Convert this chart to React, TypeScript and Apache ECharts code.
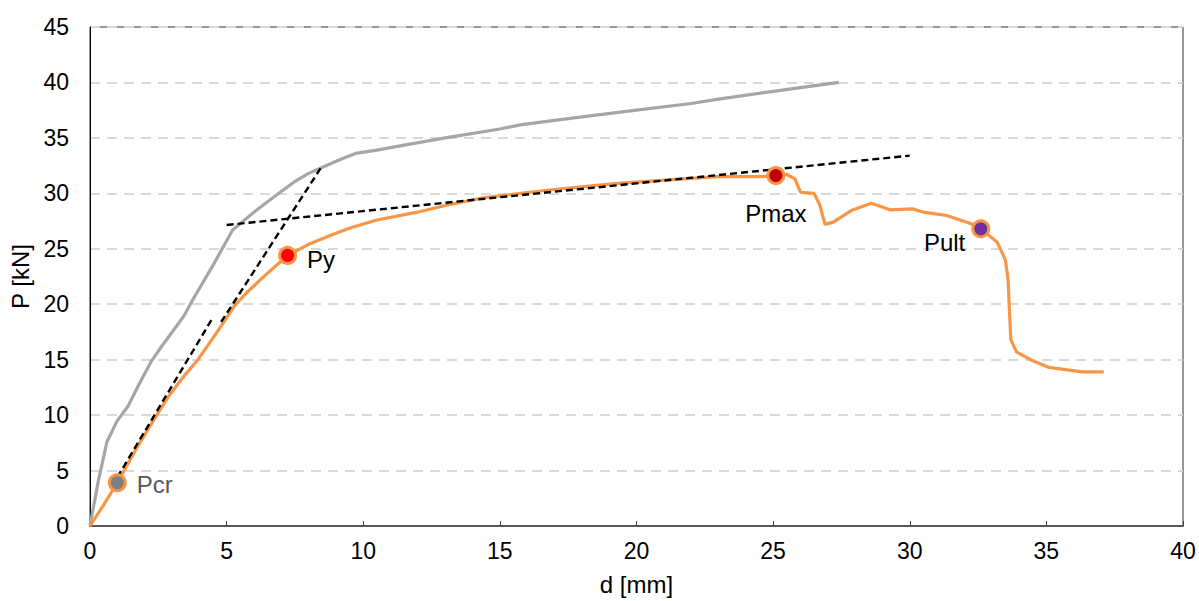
import React, { useEffect, useRef } from "react";
import * as echarts from "echarts";

const xTicks = [0, 5, 10, 15, 20, 25, 30, 35, 40];
const yTicks = [0, 5, 10, 15, 20, 25, 30, 35, 40, 45];

const grayCurve: [number, number][] = [
  [0, 0], [0.3, 4], [0.62, 7.6], [1.0, 9.5], [1.39, 10.8], [1.8, 12.8], [2.23, 14.8],
  [2.65, 16.3], [3.07, 17.7], [3.45, 19.0], [3.76, 20.4], [4.5, 23.5], [5.22, 26.7],
  [6.1, 28.5], [6.8, 29.8], [7.46, 31.0], [8.0, 31.8], [8.55, 32.4], [9.2, 33.1],
  [9.72, 33.6], [10.5, 33.9], [11.4, 34.3], [13, 35.0], [15, 35.8], [15.8, 36.2],
  [18, 36.9], [20, 37.5], [22, 38.1], [23, 38.5], [25, 39.2], [27.4, 40.0],
];

const orangeCurve: [number, number][] = [
  [0, 0], [0.5, 1.9], [1.0, 3.9], [1.7, 7.0], [2.34, 9.6], [2.85, 11.6], [3.4, 13.4],
  [3.95, 15.0], [4.6, 17.3], [5.3, 19.9], [5.8, 21.2], [6.5, 22.8], [7.23, 24.4],
  [8, 25.4], [9, 26.4], [9.54, 26.9], [10.5, 27.6], [11.98, 28.3], [13, 28.9],
  [14.4, 29.6], [16.8, 30.3], [19.3, 30.9], [21.7, 31.3], [23, 31.5], [24.5, 31.5],
  [25.1, 31.6], [25.5, 31.7], [25.8, 31.3], [26.0, 30.1], [26.5, 30.0], [26.7, 29.0],
  [26.9, 27.2], [27.2, 27.4], [27.9, 28.5], [28.6, 29.1], [29.3, 28.5], [30.1, 28.6],
  [30.5, 28.3], [31.35, 28.0], [32.2, 27.3], [32.6, 26.8], [33.2, 25.6], [33.5, 24.0],
  [33.6, 22.2], [33.65, 19.3], [33.7, 16.8], [33.9, 15.7], [34.5, 14.9], [35.1, 14.3],
  [36.3, 13.9], [37.1, 13.9],
];

const tangentInitialA: [number, number][] = [[1.0, 4.4], [4.45, 18.6]];
const tangentInitialB: [number, number][] = [[4.8, 18.4], [8.45, 32.3]];
const tangentPlastic: [number, number][] = [[5.0, 27.15], [30.0, 33.4]];

const pointNames = ["Pcr", "Py", "Pmax", "Pult"];
const pointValues: [number, number][] = [[1.0, 3.9], [7.23, 24.4], [25.1, 31.6], [32.6, 26.8]];
const pointFills = ["#7f7f7f", "#ff0000", "#c00000", "#7030a0"];

export default function App() {
  const ref = useRef<HTMLDivElement>(null);
  useEffect(() => {
    if (!ref.current) return;
    const chart = echarts.init(ref.current, null, { renderer: "svg" });
    const font = "Liberation Sans, Arial, sans-serif";
    const labelCfg: any[] = [
      { position: "right", distance: 10, color: "#595959", offset: [0, 2] },
      { position: "right", distance: 10, color: "#000", offset: [0, 4] },
      { position: "bottom", distance: 16, color: "#000", offset: [0, 0] },
      { position: "left", distance: 6, color: "#000", offset: [0, 14] },
    ];
    const pointSeries = pointNames.map((n, i) => ({
      type: "scatter",
      name: n,
      data: [pointValues[i]],
      symbol: "circle",
      symbolSize: 16,
      z: 5,
      itemStyle: { color: pointFills[i], borderColor: "#f79646", borderWidth: 3, opacity: 1 },
      label: {
        show: true,
        formatter: n,
        fontFamily: font,
        fontSize: 24,
        ...labelCfg[i],
      },
    }));
    const dashed = (d: [number, number][]) => ({
      type: "line",
      data: d,
      symbol: "none",
      z: 4,
      lineStyle: { color: "#000", width: 2.4, type: [7, 4] },
    });
    chart.setOption({
      animation: false,
      backgroundColor: "#fff",
      grid: {
        left: 89, right: 16, top: 27, bottom: 73,
        show: true, borderColor: "#303030", borderWidth: 1,
      },
      xAxis: {
        type: "value",
        min: 0, max: 40, interval: 5,
        name: "d [mm]",
        nameLocation: "middle",
        nameGap: 46,
        nameTextStyle: { fontFamily: font, fontSize: 24, color: "#000" },
        axisLine: { show: true, lineStyle: { color: "#595959", width: 2 } },
        axisTick: { show: true, inside: true, length: 5, lineStyle: { color: "#404040" } },
        axisLabel: {
          fontFamily: font, fontSize: 23, color: "#000", margin: 13,
          formatter: (v: number) => (xTicks.includes(v) ? String(v) : ""),
        },
        splitLine: { show: false },
      },
      yAxis: {
        type: "value",
        min: 0, max: 45, interval: 5,
        name: "P [kN]",
        nameLocation: "middle",
        nameGap: 58,
        nameTextStyle: { fontFamily: font, fontSize: 24, color: "#000" },
        axisLine: { show: true, lineStyle: { color: "#000", width: 1 } },
        axisTick: { show: false },
        axisLabel: {
          fontFamily: font, fontSize: 23, color: "#000", margin: 21,
          formatter: (v: number) => (yTicks.includes(v) ? String(v) : ""),
        },
        splitLine: { show: true, lineStyle: { color: "#d9d9d9", width: 2, type: [10, 7] } },
      },
      series: [
        {
          type: "line",
          data: grayCurve,
          symbol: "none",
          z: 2,
          lineStyle: { color: "#a6a6a6", width: 3.2 },
        },
        {
          type: "line",
          data: orangeCurve,
          symbol: "none",
          z: 3,
          lineStyle: { color: "#f79646", width: 3.2 },
        },
        dashed(tangentInitialA),
        dashed(tangentInitialB),
        dashed(tangentPlastic),
        ...pointSeries,
      ],
    });
    return () => chart.dispose();
  }, []);
  return (
    <div
      ref={ref}
      style={{ position: "fixed", left: 0, top: 0, width: 1199, height: 601 }}
    />
  );
}
